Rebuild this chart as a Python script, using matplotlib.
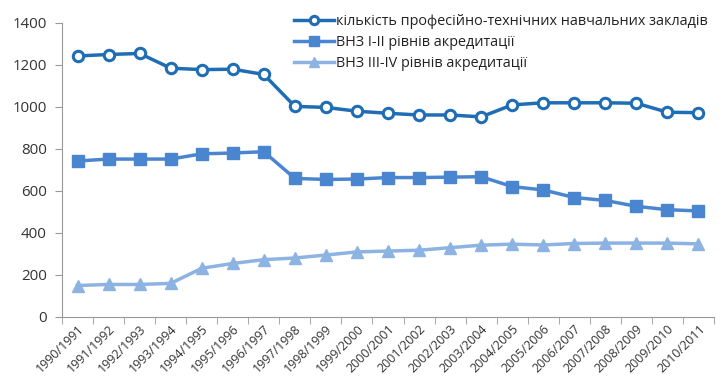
import numpy as np
import matplotlib.pyplot as plt
from matplotlib.ticker import FixedLocator

plt.rcParams['font.family'] = ['Open Sans', 'DejaVu Sans']

years = [f"{y}/{y + 1}" for y in range(1990, 2011)]

# кількість ПТНЗ
ptnz = [1243, 1250, 1255, 1185, 1178, 1180, 1155, 1003, 998, 980, 970,
        962, 962, 953, 1010, 1020, 1020, 1020, 1018, 975, 973]
# ВНЗ I-II
vnz12 = [743, 752, 752, 752, 777, 781, 787, 660, 655, 657, 664,
         664, 666, 668, 621, 605, 569, 555, 527, 511, 505]
# ВНЗ III-IV
vnz34 = [150, 155, 155, 160, 232, 255, 273, 281, 295, 310, 314,
         318, 330, 342, 347, 343, 350, 352, 352, 352, 348]

labels = ["кількість професійно-технічних навчальних закладів",
          "ВНЗ І-ІІ рівнів акредитації",
          "ВНЗ ІІІ-ІV рівнів акредитації"]

x = np.arange(len(years))

fig = plt.figure(figsize=(7.24, 3.91), dpi=100)
ax = fig.add_axes([62 / 724, 74 / 391, 652 / 724, 294 / 391])

ax.plot(x, ptnz, color="#1F6DB5", lw=2.5, marker="o", ms=7.5,
        mfc="white", mec="#1F6DB5", mew=2.2, label=labels[0])
ax.plot(x, vnz12, color="#4A86D0", lw=2.5, marker="s", ms=8.5,
        label=labels[1])
ax.plot(x, vnz34, color="#8DB3E2", lw=2.5, marker="^", ms=8.5,
        label=labels[2])

ax.set_xlim(-0.5, len(years) - 0.5)
ax.set_ylim(0, 1400)
ax.set_yticks(range(0, 1401, 200))
ax.set_xticks(x)
ax.set_xticklabels(years, rotation=45, ha="right", rotation_mode="anchor",
                   fontsize=9, color="#333333")
ax.tick_params(axis="x", length=0, pad=4)
ax.xaxis.set_minor_locator(FixedLocator(np.arange(-0.5, len(years), 1)))
ax.tick_params(axis="x", which="minor", length=5, color="#999999")
ax.tick_params(axis="y", length=5, pad=6, color="#999999", labelsize=10.8,
               labelcolor="#333333")

for s in ["top", "right"]:
    ax.spines[s].set_visible(False)
for s in ["left", "bottom"]:
    ax.spines[s].set_color("#999999")

leg = ax.legend(loc="upper right", bbox_to_anchor=(1.0, 1.05), frameon=False,
                fontsize=10.4, handlelength=2.8, labelspacing=0.42,
                handletextpad=0.15, borderaxespad=0, markerscale=0.8)
for t in leg.get_texts():
    t.set_color("#222222")

fig.savefig("out.png", dpi=100)
